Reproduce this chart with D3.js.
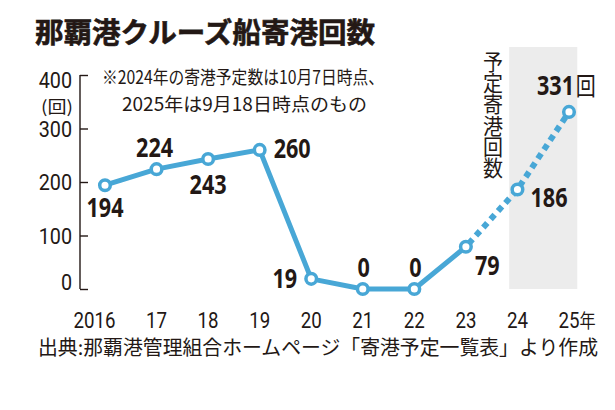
<!DOCTYPE html>
<html><head><meta charset="utf-8">
<script src="https://cdn.jsdelivr.net/npm/d3@7"></script>
<style>
html,body{margin:0;padding:0;background:#fff;}
svg{display:block;}
</style></head>
<body>
<script>
// ---- data ----
const years = ["2016","17","18","19","20","21","22","23","24","25年"];
const values = [194, 224, 243, 260, 19, 0, 0, 79, 186, 331];
const valueLabels = ["194","224","243","260","19","0","0","79","186","331"];
const valueSuffix = ["","","","","","","","","","回"];
const yTicks = [0, 100, 200, 300, 400];
const solidUntil = 7;   // index of 2023; after that planned (dotted)
const titleText = "那覇港クルーズ船寄港回数";
const noteLines = ["※2024年の寄港予定数は10月7日時点、", "2025年は9月18日時点のもの"];
const bandLabel = "予定寄港回数";
const sourceText = "出典:那覇港管理組合ホームページ「寄港予定一覧表」より作成";
const yUnit = "(回)";

// label placement (layout only)
const labelPos = [
  {dx:0, dy:32, anchor:"middle"},
  {dx:-2, dy:-12, anchor:"middle"},
  {dx:0, dy:35, anchor:"middle"},
  {dx:14, dy:8, anchor:"start"},
  {dx:-14, dy:9, anchor:"end"},
  {dx:1, dy:-12, anchor:"middle"},
  {dx:1, dy:-12, anchor:"middle"},
  {dx:9, dy:28, anchor:"start"},
  {dx:13, dy:18, anchor:"start"},
  {dx:-32, dy:-17, anchor:"start"}
];

const W = 615, H = 410;
const ink = "#231815";
const blue = "#48a7d6";
const svg = d3.select("body").append("svg").attr("width", W).attr("height", H);

const x = d3.scaleLinear().domain([0, years.length - 1]).range([105, 569]);
const y = d3.scaleLinear().domain([0, 400]).range([289, 75]);
const step = x(1) - x(0);

// shaded band for planned years
svg.append("rect")
  .attr("x", x(8) - step * 0.16).attr("width", x(9) - x(8) + step * 0.32)
  .attr("y", y(400) - 28).attr("height", y(0) - y(400) + 28)
  .attr("fill", "#ececec");

// title
svg.append("text").text(titleText)
  .attr("x", 35).attr("y", 43)
  .attr("font-family", "'Noto Sans CJK JP'").attr("font-weight", 700)
  .attr("font-size", 28).attr("fill", ink)
  .attr("stroke", ink).attr("stroke-width", 0.6)
  .attr("textLength", 340).attr("lengthAdjust", "spacingAndGlyphs");

// note
svg.append("text").text(noteLines[0])
  .attr("x", 102).attr("y", 83.5)
  .attr("font-family", "'Noto Sans CJK JP'").attr("font-size", 18.5).attr("fill", ink)
  .attr("textLength", 282).attr("lengthAdjust", "spacingAndGlyphs");
svg.append("text").text(noteLines[1])
  .attr("x", 122).attr("y", 110.5)
  .attr("font-family", "'Noto Sans CJK JP'").attr("font-size", 18.5).attr("fill", ink)
  .attr("textLength", 245).attr("lengthAdjust", "spacingAndGlyphs");

// y axis
const axisG = svg.append("g").attr("transform", "translate(80,0)");
const yAxis = d3.axisRight(y).tickValues(yTicks).tickSize(8).tickFormat("");
axisG.call(yAxis);
axisG.select(".domain").remove();
axisG.selectAll(".tick line").attr("stroke", ink).attr("stroke-width", 1.4);
axisG.append("line").attr("x1", 0).attr("x2", 0).attr("y1", y(400)).attr("y2", y(0))
  .attr("stroke", ink).attr("stroke-width", 1.4);

// y tick labels
yTicks.forEach(t => {
  let by = y(t) + 8;
  if (t === 400) by = y(t) + 13;
  if (t === 0) by = y(t) + 1;
  svg.append("text").text(t)
    .attr("transform", `translate(72,${by}) scale(0.9,1)`)
    .attr("text-anchor", "end")
    .attr("font-family", "Roboto").attr("font-size", 22).attr("fill", ink);
});
svg.append("text").text(yUnit)
  .attr("x", 73).attr("y", 112.5).attr("text-anchor", "end")
  .attr("font-family", "'Noto Sans CJK JP'").attr("font-size", 17).attr("fill", ink)
  .attr("textLength", 32).attr("lengthAdjust", "spacingAndGlyphs");

// x labels: the two-digit part centred on the point
years.forEach((lab, i) => {
  const m = lab.match(/^(\d*?)(\d{2})(\D*)$/);
  const pre = m[1], main = m[2], suf = m[3];
  const t = svg.append("text")
    .attr("font-family", "Roboto").attr("font-size", 22).attr("fill", ink)
    .attr("text-anchor", "start");
  const tpre = t.append("tspan").text(pre);
  const tmain = t.append("tspan").text(main);
  if (suf) t.append("tspan").text(suf).attr("font-family", "'Noto Sans CJK JP'").attr("font-size", 19);
  const sx = 0.85;
  const pw = pre ? tpre.node().getComputedTextLength() : 0;
  const mw = tmain.node().getComputedTextLength();
  t.attr("transform", `translate(${x(i) - (pw + mw / 2) * sx},328) scale(${sx},1)`);
});

// source
svg.append("text").text(sourceText)
  .attr("x", 38).attr("y", 355)
  .attr("font-family", "'Noto Sans CJK JP'").attr("font-size", 20).attr("fill", ink)
  .attr("textLength", 560).attr("lengthAdjust", "spacingAndGlyphs");

// vertical label
svg.append("text").text(bandLabel)
  .attr("x", 493).attr("y", 51)
  .style("writing-mode", "vertical-rl")
  .attr("font-family", "'Noto Sans CJK JP'").attr("font-size", 20).attr("fill", ink)
  .attr("textLength", 128).attr("lengthAdjust", "spacingAndGlyphs");

// lines
const pts = values.map((v, i) => [x(i), y(v)]);
const line = d3.line();
svg.append("path").attr("d", line(pts.slice(0, solidUntil + 1)))
  .attr("fill", "none").attr("stroke", blue).attr("stroke-width", 5)
  .attr("stroke-linejoin", "round");
svg.append("path").attr("d", line(pts.slice(solidUntil)))
  .attr("fill", "none").attr("stroke", blue).attr("stroke-width", 6)
  .attr("stroke-dasharray", "6,5").attr("stroke-dashoffset", -4);

// markers
svg.selectAll("circle.pt").data(values).enter().append("circle")
  .attr("class", "pt")
  .attr("cx", (d, i) => x(i)).attr("cy", d => y(d)).attr("r", 5.3)
  .attr("fill", "#fff").attr("stroke", blue).attr("stroke-width", 3.5);

// value labels
values.forEach((v, i) => {
  const p = labelPos[i];
  const t = svg.append("text")
    .attr("transform", `translate(${x(i) + p.dx},${y(v) + p.dy}) scale(0.8,1)`)
    .attr("text-anchor", p.anchor)
    .attr("font-family", "'Noto Sans'").attr("font-weight", 700)
    .attr("font-size", 27).attr("fill", ink);
  t.append("tspan").text(valueLabels[i]);
  if (valueSuffix[i]) t.append("tspan").text(valueSuffix[i])
    .attr("font-family", "'Noto Sans CJK JP'").attr("font-weight", 400).attr("font-size", 25).attr("dx", 2);
});
</script>
</body></html>
